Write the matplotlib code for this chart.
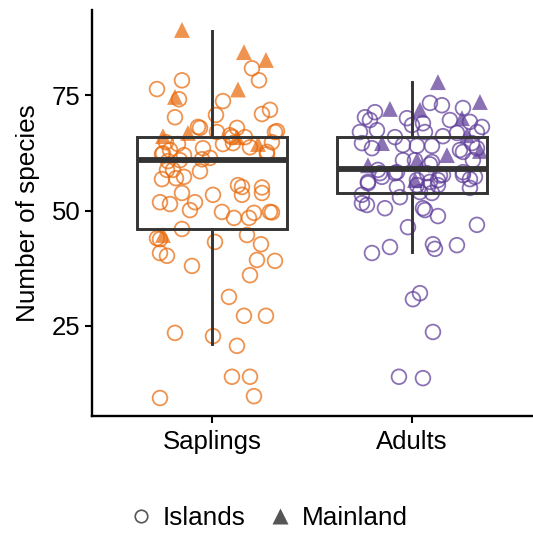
import matplotlib
matplotlib.use("Agg")
import matplotlib.pyplot as plt
from matplotlib.lines import Line2D
import numpy as np

plt.rcParams['font.family'] = ['Liberation Sans', 'DejaVu Sans']

categories = ["Saplings", "Adults"]
colors = {"Saplings": "#E86A0C", "Adults": "#5E3C99"}

# Box statistics
box_q1 = [45.9, 53.9]
box_med = [60.9, 58.9]
box_q3 = [66.0, 66.0]
box_wlo = [21.0, 41.1]
box_whi = [88.9, 77.9]

# Saplings points: jitter offset, value
sap_isl_dx = [0.20, 0.235, -0.15, -0.275, -0.165, 0.055, -0.185, 0.02, 0.25, 0.29,
              -0.06, 0.125, 0.315, 0.325, -0.07, 0.025, 0.09, 0.165, -0.23, -0.17,
              0.10, 0.105, 0.19, 0.30, -0.045, -0.21, -0.25, -0.05, -0.22, -0.16,
              -0.225, -0.06, 0.275, -0.25, -0.18, -0.14, -0.15, 0.005, 0.15, 0.15,
              0.25, -0.26, -0.21, -0.085, -0.11, 0.05, 0.11, 0.185, 0.21, 0.29,
              0.30, -0.15, -0.275, -0.26, 0.015, 0.175, 0.245, -0.26, -0.225, -0.10,
              0.225, 0.315, 0.19, 0.085, 0.16, 0.27, -0.185, 0.005, 0.125, 0.10,
              0.19, -0.26, 0.21, 0.275, -0.245, -0.14, -0.01, 0.13, -0.195, 0.25, 0.055]
sap_isl_y = [80.8, 78.2, 78.2, 76.3, 74.1, 73.7, 70.2, 70.7, 70.9, 71.8,
             67.9, 67.9, 67.0, 67.2, 68.1, 67.0, 66.3, 65.9, 64.8, 64.4,
             65.9, 64.6, 63.7, 64.8, 63.5, 63.1, 62.2, 61.1, 60.7, 60.9,
             58.8, 58.5, 62.2, 56.8, 57.0, 57.3, 53.8, 53.4, 55.1, 53.4,
             53.8, 51.8, 51.4, 51.8, 50.1, 49.7, 48.4, 48.4, 49.5, 49.7,
             49.6, 46.0, 44.0, 43.8, 43.2, 44.7, 42.7, 40.8, 40.2, 38.0,
             39.3, 39.1, 36.0, 31.3, 27.2, 27.2, 23.5, 22.8, 20.7, 14.0,
             14.0, 9.4, 9.8, 62.7, 62.4, 62.0, 61.4, 55.5, 58.8, 55.0, 64.4]
sap_main_dx = [-0.15, 0.16, 0.27, 0.13, -0.185, -0.12, -0.245, 0.125, 0.23, -0.245]
sap_main_y = [89.1, 84.3, 82.6, 76.2, 74.6, 66.8, 66.1, 65.9, 64.4, 44.7]

# Adults points: jitter offset, value
adu_isl_dx = [0.09, 0.15, 0.255, -0.185, -0.235, -0.21, -0.025, 0.055, 0.0, 0.19,
              0.29, 0.35, -0.26, -0.175, -0.085, 0.065, 0.155, 0.225, 0.325, -0.25,
              -0.2, -0.045, 0.025, 0.1, 0.255, 0.325, 0.305, -0.16, -0.085, -0.045,
              0.1, 0.155, 0.255, -0.22, -0.075, 0.025, 0.08, 0.13, 0.29, 0.315,
              -0.25, -0.25, -0.225, -0.135, -0.06, 0.055, 0.13, -0.02, 0.325, -0.2,
              -0.11, 0.105, 0.115, 0.225, 0.04, 0.005, 0.105, -0.065, 0.055,
              0.24, 0.30, -0.17, -0.075, 0.075, 0.14, 0.255, -0.22, -0.15, 0.025,
              0.09, 0.13, 0.29, 0.04, 0.10, 0.065, 0.015, 0.09]
adu_isl_y = [73.3, 72.8, 72.2, 71.3, 70.2, 69.6, 70.0, 68.9, 68.5, 69.6,
             69.2, 68.1, 67.0, 67.4, 65.9, 67.0, 66.1, 66.8, 67.0, 64.6,
             63.5, 64.2, 64.0, 64.0, 62.7, 63.5, 60.9, 58.1, 58.1, 60.9,
             60.5, 57.7, 57.7, 55.9, 55.1, 55.5, 55.1, 56.6, 54.9, 57.3,
             53.4, 51.6, 51.2, 50.5, 52.9, 50.5, 48.8, 46.4, 46.9, 40.8,
             42.1, 42.7, 41.7, 42.5, 32.1, 30.8, 23.7, 14.0, 13.7,
             63.1, 64.6, 58.8, 58.3, 58.1, 57.6, 58.3, 56.2, 57.3, 56.6,
             56.2, 55.5, 56.8, 54.0, 53.8, 50.1, 60.9, 60.0]
adu_main_dx = [0.13, 0.34, -0.11, 0.04, 0.25, 0.275, -0.15, 0.175, 0.34, -0.22, 0.025, 0.015]
adu_main_y = [77.8, 73.5, 72.0, 71.8, 70.0, 66.3, 64.6, 62.0, 62.9, 59.8, 60.9, 56.6]

fig = plt.figure(figsize=(5.33, 5.33), dpi=100)
ax = fig.add_axes([0.1726, 0.2195, 0.8254, 0.7615])

pos = np.arange(1, len(categories) + 1)
alpha = 0.72

groups = [
    (sap_isl_dx, sap_isl_y, sap_main_dx, sap_main_y),
    (adu_isl_dx, adu_isl_y, adu_main_dx, adu_main_y),
]
for i, (cat, (idx, iy, mdx, my)) in enumerate(zip(categories, groups)):
    c = colors[cat]
    ax.scatter(pos[i] + np.array(idx), iy, s=112, facecolors='none', edgecolors=c,
               linewidths=1.3, alpha=alpha, zorder=2)
    ax.scatter(pos[i] + np.array(mdx), my, s=130, marker='^', color=c,
               edgecolors='none', alpha=alpha, zorder=2)

stats = []
for i, cat in enumerate(categories):
    stats.append(dict(label=cat, q1=box_q1[i], med=box_med[i], q3=box_q3[i],
                      whislo=box_wlo[i], whishi=box_whi[i], fliers=[]))
ax.bxp(stats, positions=pos, widths=0.75, showfliers=False, showcaps=False,
       patch_artist=True, manage_ticks=False,
       boxprops=dict(facecolor='none', edgecolor='#333333', linewidth=2.1),
       whiskerprops=dict(color='#333333', linewidth=2.1),
       medianprops=dict(color='#333333', linewidth=4.2, solid_capstyle='butt'),
       zorder=3)

ax.set_xlim(0.4, 2.6)
ax.set_ylim(5.5, 93.4)
ax.set_xticks(pos)
ax.set_xticklabels(categories)
ax.set_yticks([25, 50, 75])
ax.set_ylabel("Number of species", fontsize=18.8, labelpad=8)
ax.tick_params(axis='both', labelsize=18.5, length=5, width=1.5, color='black')
ax.tick_params(axis='x', pad=5)
for side in ['top', 'right']:
    ax.spines[side].set_visible(False)
for side in ['left', 'bottom']:
    ax.spines[side].set_linewidth(1.7)

handles = [
    Line2D([], [], marker='o', linestyle='none', markerfacecolor='none',
           markeredgecolor='#555555', markersize=9, markeredgewidth=1.2, label='Islands'),
    Line2D([], [], marker='^', linestyle='none', color='#555555',
           markeredgecolor='none', markersize=11, label='Mainland'),
]
fig.legend(handles=handles, loc='center', bbox_to_anchor=(0.5, 0.028), ncol=2,
           frameon=False, fontsize=18.8, handletextpad=0.25, columnspacing=0.7,
           handlelength=1.2)

fig.savefig("out.png", dpi=100)
